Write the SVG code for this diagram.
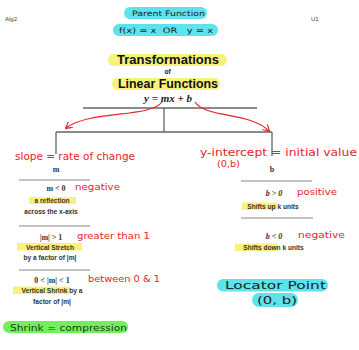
<svg xmlns="http://www.w3.org/2000/svg" width="359" height="350" viewBox="0 0 359 350">
<defs>
<style>
.bg{fill:#fff}
.sans{font-family:"Liberation Sans",Arial,sans-serif}
.serif{font-family:"Liberation Serif","Times New Roman",serif}
.hand{font-family:"DejaVu Sans",sans-serif;fill:#e8232a}
.cyan{fill:#5ee3ee}
.yel{fill:#f6f27a}
.grn{fill:#72f05a}
.ln{stroke:#8a8a8a;stroke-width:1.2;fill:none}
.tree{stroke:#666;stroke-width:1.3;fill:none}
.red{stroke:#e8232a;stroke-width:1.2;fill:none}
.sm{font-size:6.6px;font-weight:bold;fill:#333}
.lbl{fill:#222;font-family:"DejaVu Sans",sans-serif}
</style>
<marker id="ah" viewBox="0 0 10 10" refX="8" refY="5" markerWidth="6" markerHeight="6" orient="auto">
<path d="M0,0 L9,5 L0,10" fill="none" stroke="#e8232a" stroke-width="1.6"/>
</marker>
</defs>
<rect class="bg" x="0" y="0" width="359" height="350"/>

<g id="header">
<text class="sans" x="5" y="21" font-size="6" fill="#444">Alg2</text>
<text class="sans" x="311" y="21" font-size="6" fill="#444">U1</text>
</g>

<g id="parent">
<rect class="cyan" x="124" y="7" width="83" height="12" rx="6"/>
<text class="lbl" x="132" y="16" font-size="7.5" fill="#2a4a6a" textLength="73" lengthAdjust="spacingAndGlyphs">Parent Function</text>
<rect class="cyan" x="113" y="24" width="105" height="12" rx="6"/>
<text class="lbl" x="119" y="33" font-size="7.5" fill="#2a4a6a" xml:space="preserve" textLength="94" lengthAdjust="spacingAndGlyphs">f(x) = x  OR   y = x</text>
</g>

<g id="title">
<rect class="yel" x="108" y="54" width="119" height="12" rx="6"/>
<text class="sans" x="117" y="64" font-size="13" font-weight="bold" fill="#111" textLength="102" lengthAdjust="spacingAndGlyphs">Transformations</text>
<text class="sans" x="167.5" y="74" text-anchor="middle" font-size="6.5" font-weight="bold" fill="#111">of</text>
<rect class="yel" x="112" y="78" width="108" height="12" rx="6"/>
<text class="sans" x="118" y="88" font-size="12" font-weight="bold" fill="#111" textLength="100" lengthAdjust="spacingAndGlyphs">Linear Functions</text>
<text class="serif" x="168" y="102" text-anchor="middle" font-size="11" font-weight="bold" font-style="italic" fill="#222">y = mx + b</text>
</g>

<g id="connectors">
<path class="tree" d="M83,108 H257 M164,108 V132 M56,132 H272 M56,132 V154 M272,132 V156"/>
<path class="red" d="M162,102 C150,118 90,110 66,128" marker-end="url(#ah)"/>
<path class="red" d="M195,102 C205,118 250,112 269,131" marker-end="url(#ah)"/>
<path class="ln" d="M19,180 H90 M19,226 H90 M19,270 H90 M241,181 H312 M241,218 H313"/>
</g>

<g id="slope">
<text class="hand" x="15" y="160" font-size="10" textLength="120" lengthAdjust="spacingAndGlyphs">slope = rate of change</text>
<text class="serif" x="56" y="172" text-anchor="middle" font-size="8" font-weight="bold" fill="#333">m</text>
</g>

<g id="intercept">
<text class="hand" x="200" y="156" font-size="10" textLength="157" lengthAdjust="spacingAndGlyphs">y-intercept = initial value</text>
<text class="hand" x="217" y="167" font-size="8" textLength="23" lengthAdjust="spacingAndGlyphs">(0,b)</text>
<text class="serif" x="272" y="172" text-anchor="middle" font-size="8" font-weight="bold" fill="#333">b</text>
</g>

<g id="neg">
<text class="serif" x="56" y="191" text-anchor="middle" font-size="8" font-weight="bold" fill="#333">m &lt; 0</text>
<text class="hand" x="75" y="190" font-size="9.5" textLength="45" lengthAdjust="spacingAndGlyphs">negative</text>
<rect class="yel" x="29" y="197" width="47" height="7"/>
<text class="sans sm" x="52" y="203" text-anchor="middle">a reflection</text>
<text class="sans sm" x="51" y="213.5" text-anchor="middle">across the x-axis</text>
</g>

<g id="stretch">
<text class="serif" x="51" y="240" text-anchor="middle" font-size="8" font-weight="bold" fill="#333">|m| &gt; 1</text>
<text class="hand" x="77" y="239" font-size="9" textLength="73" lengthAdjust="spacingAndGlyphs">greater than 1</text>
<rect class="yel" x="17" y="243" width="65" height="7.5"/>
<text class="sans sm" x="50" y="249.5" text-anchor="middle">Vertical Stretch</text>
<text class="sans sm" x="50" y="259.5" text-anchor="middle">by a factor of |m|</text>
</g>

<g id="shrink">
<text class="serif" x="52" y="283" text-anchor="middle" font-size="8" font-weight="bold" fill="#333">0 &lt; |m| &lt; 1</text>
<text class="hand" x="88" y="282" font-size="9" textLength="72" lengthAdjust="spacingAndGlyphs">between 0 &amp; 1</text>
<rect class="yel" x="13" y="286.5" width="57" height="7.5"/>
<text class="sans sm" x="52" y="293" text-anchor="middle">Vertical Shrink by a</text>
<text class="sans sm" x="52" y="304" text-anchor="middle">factor of |m|</text>
</g>

<g id="compression">
<rect class="grn" x="3" y="321" width="125" height="12" rx="6"/>
<text class="hand" x="10" y="330.5" font-size="8.5" style="fill:#1a3a1a" textLength="117" lengthAdjust="spacingAndGlyphs">Shrink = compression</text>
</g>

<g id="up">
<text class="serif" x="274" y="196" text-anchor="middle" font-size="8" font-weight="bold" font-style="italic" fill="#333">b &gt; 0</text>
<text class="hand" x="297" y="195" font-size="9" textLength="40" lengthAdjust="spacingAndGlyphs">positive</text>
<rect class="yel" x="242" y="202.5" width="35" height="7.5"/>
<text class="sans sm" x="273" y="209" text-anchor="middle">Shifts up k units</text>
</g>

<g id="down">
<text class="serif" x="274" y="239" text-anchor="middle" font-size="8" font-weight="bold" font-style="italic" fill="#333">b &lt; 0</text>
<text class="hand" x="298" y="238" font-size="9.5" textLength="47" lengthAdjust="spacingAndGlyphs">negative</text>
<rect class="yel" x="235" y="243.5" width="42" height="7.5"/>
<text class="sans sm" x="273.5" y="250" text-anchor="middle">Shifts down k units</text>
</g>

<g id="locator">
<rect class="cyan" x="217" y="279" width="111" height="12.5" rx="6"/>
<text class="lbl" x="225" y="289" font-size="10.5" textLength="101" lengthAdjust="spacingAndGlyphs">Locator Point</text>
<rect class="cyan" x="252" y="293" width="46" height="14" rx="7"/>
<text class="lbl" x="257" y="304" font-size="10.5" textLength="40" lengthAdjust="spacingAndGlyphs">(0, b)</text>
</g>
</svg>
